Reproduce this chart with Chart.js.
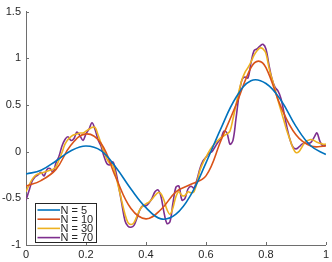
<!DOCTYPE html>
<html><head><meta charset="utf-8">
<script src="https://cdn.jsdelivr.net/npm/chart.js@4/dist/chart.umd.min.js"></script>
<style>html,body{margin:0;padding:0;background:#fff}canvas{display:block}</style>
</head><body>
<canvas id="c" width="332" height="262"></canvas>
<script>
const seriesLabels = ["N = 5", "N = 10", "N = 30", "N = 70"];
const seriesColors = ["#0072BD", "#D95319", "#EDB120", "#7E2F8E"];
const xTickValues = [0, 0.2, 0.4, 0.6, 0.8, 1];
const xTickLabels = ["0", "0.2", "0.4", "0.6", "0.8", "1"];
const yTickValues = [-1, -0.5, 0, 0.5, 1, 1.5];
const yTickLabels = ["-1", "-0.5", "0", "0.5", "1", "1.5"];

const xN5 = [0,0.05,0.1,0.15,0.2,0.25,0.3,0.35,0.4,0.45,0.5,0.55,0.6,0.65,0.7,0.75,0.8,0.85,0.9,0.95,1];
const yN5 = [-0.24,-0.2,-0.1,0.01,0.06,0.01,-0.17,-0.4,-0.6,-0.72,-0.67,-0.46,-0.12,0.25,0.58,0.76,0.73,0.55,0.27,0.06,-0.03];

const xN10 = [0,0.05,0.1,0.15,0.2,0.25,0.3,0.35,0.4,0.45,0.5,0.55,0.6,0.65,0.7,0.75,0.775,0.8,0.85,0.9,0.95,1];
const yN10 = [-0.37,-0.31,-0.19,0.07,0.19,0.09,-0.28,-0.61,-0.72,-0.62,-0.43,-0.35,-0.26,0.12,0.5,0.9,0.97,0.9,0.48,0.18,0.06,0.06];

const xFine = [0,0.01,0.02,0.03,0.04,0.05,0.06,0.07,0.08,0.09,0.1,0.11,0.12,0.13,0.14,0.15,0.16,0.17,0.18,0.19,0.2,0.21,0.22,0.23,0.24,0.25,0.26,0.27,0.28,0.29,0.3,0.31,0.32,0.33,0.34,0.35,0.36,0.37,0.38,0.39,0.4,0.41,0.42,0.43,0.44,0.45,0.46,0.47,0.48,0.49,0.5,0.51,0.52,0.53,0.54,0.55,0.56,0.57,0.58,0.59,0.6,0.61,0.62,0.63,0.64,0.65,0.66,0.67,0.68,0.69,0.7,0.71,0.72,0.73,0.74,0.75,0.76,0.77,0.78,0.79,0.8,0.81,0.82,0.83,0.84,0.85,0.86,0.87,0.88,0.89,0.9,0.91,0.92,0.93,0.94,0.95,0.96,0.97,0.98,0.99,1];

const yN30 = [-0.43,-0.36,-0.3,-0.26,-0.24,-0.23,-0.22,-0.21,-0.2,-0.19,-0.16,-0.09,-0.01,0.08,0.13,0.16,0.18,0.19,0.2,0.2,0.22,0.24,0.26,0.26,0.18,0.09,0.0,-0.08,-0.13,-0.15,-0.27,-0.4,-0.54,-0.67,-0.76,-0.78,-0.76,-0.69,-0.62,-0.58,-0.56,-0.54,-0.51,-0.47,-0.44,-0.45,-0.52,-0.62,-0.67,-0.6,-0.48,-0.43,-0.47,-0.47,-0.43,-0.44,-0.43,-0.33,-0.2,-0.12,-0.06,0.0,0.05,0.09,0.12,0.15,0.17,0.19,0.22,0.35,0.5,0.65,0.77,0.85,0.9,0.96,1.03,1.08,1.11,1.1,1.05,0.9,0.78,0.67,0.55,0.44,0.33,0.22,0.13,0.04,-0.01,0.0,0.05,0.1,0.12,0.13,0.12,0.1,0.09,0.08,0.08];

const yN70 = [-0.52,-0.42,-0.32,-0.27,-0.25,-0.22,-0.26,-0.19,-0.18,-0.22,-0.12,-0.05,0.06,0.13,0.16,0.12,0.14,0.21,0.17,0.12,0.19,0.24,0.31,0.24,0.13,0.06,-0.05,-0.13,-0.14,-0.11,-0.22,-0.39,-0.57,-0.74,-0.8,-0.81,-0.79,-0.71,-0.62,-0.58,-0.58,-0.55,-0.5,-0.43,-0.41,-0.48,-0.65,-0.77,-0.75,-0.55,-0.38,-0.37,-0.52,-0.5,-0.4,-0.37,-0.39,-0.3,-0.18,-0.1,-0.06,-0.02,0.0,0.05,0.1,0.14,0.22,0.2,0.08,0.12,0.35,0.6,0.77,0.8,0.79,0.95,1.08,1.1,1.13,1.15,1.1,0.93,0.78,0.69,0.65,0.57,0.42,0.26,0.13,0.05,0.03,0.05,0.08,0.09,0.09,0.1,0.15,0.2,0.11,0.06,0.07];

function pts(xs, ys){ return xs.map((x,i)=>({x:x, y:ys[i]})); }

const FONT = "'Liberation Sans', Arial, Helvetica, sans-serif";
const TEXT = "#262626";
const AXIS = "#6e6e6e";

const inwardTicks = {
  id: 'inwardTicks',
  afterDatasetsDraw(chart){
    const ctx = chart.ctx, xs = chart.scales.x, ys = chart.scales.y, a = chart.chartArea;
    ctx.save();
    ctx.strokeStyle = AXIS; ctx.lineWidth = 1;
    ctx.beginPath();
    xTickValues.forEach(v=>{ const p = Math.round(xs.getPixelForValue(v))+0.5; ctx.moveTo(p, a.bottom); ctx.lineTo(p, a.bottom-3); });
    yTickValues.forEach(v=>{ const p = Math.round(ys.getPixelForValue(v))+0.5; ctx.moveTo(a.left, p); ctx.lineTo(a.left+3, p); });
    ctx.stroke();
    ctx.restore();
  }
};

const boxLegend = {
  id: 'boxLegend',
  afterDraw(chart){
    const ctx = chart.ctx;
    const bx = 35.5, by = 203.5, bw = 61, bh = 39;
    ctx.save();
    ctx.fillStyle = "#fff"; ctx.fillRect(bx, by, bw, bh);
    ctx.strokeStyle = TEXT; ctx.lineWidth = 1; ctx.strokeRect(bx, by, bw, bh);
    ctx.font = "11px " + FONT; ctx.textBaseline = "middle"; ctx.fillStyle = TEXT;
    chart.data.datasets.forEach((d,i)=>{
      const y = 210 + i*9.2;
      ctx.strokeStyle = d.borderColor; ctx.lineWidth = 1.6;
      ctx.beginPath(); ctx.moveTo(37.5, y); ctx.lineTo(60, y); ctx.stroke();
      ctx.fillText(d.label, 60.5, y+0.5);
    });
    ctx.restore();
  }
};

const datasets = [
  {label: seriesLabels[0], data: pts(xN5, yN5), borderColor: seriesColors[0], tension: 0.4},
  {label: seriesLabels[1], data: pts(xN10, yN10), borderColor: seriesColors[1], tension: 0.4},
  {label: seriesLabels[2], data: pts(xFine, yN30), borderColor: seriesColors[2], tension: 0.35},
  {label: seriesLabels[3], data: pts(xFine, yN70), borderColor: seriesColors[3], tension: 0.35}
].map(d=>Object.assign(d,{borderWidth:1.6, pointRadius:0, fill:false}));

new Chart(document.getElementById('c'), {
  type: 'line',
  data: {datasets},
  plugins: [inwardTicks, boxLegend],
  options: {
    responsive: false, animation: false, devicePixelRatio: 1,
    layout: {padding: {top: 5, right: 4, left: 0, bottom: 0}},
    plugins: {legend: {display: false}, tooltip: {enabled: false}},
    scales: {
      x: {
        type: 'linear', min: 0, max: 1,
        afterBuildTicks: s => { s.ticks = xTickValues.map(v=>({value:v})); },
        ticks: {callback: (v)=> xTickLabels[xTickValues.indexOf(v)], color: TEXT, font: {family: FONT, size: 11}, padding: 3, maxRotation: 0, autoSkip: false},
        grid: {display: true, drawOnChartArea: false, drawTicks: false, color: 'rgba(0,0,0,0)'},
        border: {display: true, color: AXIS, width: 1},
        afterFit: s => { s.height = 17; }
      },
      y: {
        type: 'linear', min: -1, max: 1.5,
        afterBuildTicks: s => { s.ticks = yTickValues.map(v=>({value:v})); },
        ticks: {callback: (v)=> yTickLabels[yTickValues.indexOf(v)], color: TEXT, font: {family: FONT, size: 11}, padding: 5, autoSkip: false},
        grid: {display: true, drawOnChartArea: false, drawTicks: false, color: 'rgba(0,0,0,0)'},
        border: {display: true, color: AXIS, width: 1},
        afterFit: s => { s.width = 26; }
      }
    }
  }
});
</script>
</body></html>
